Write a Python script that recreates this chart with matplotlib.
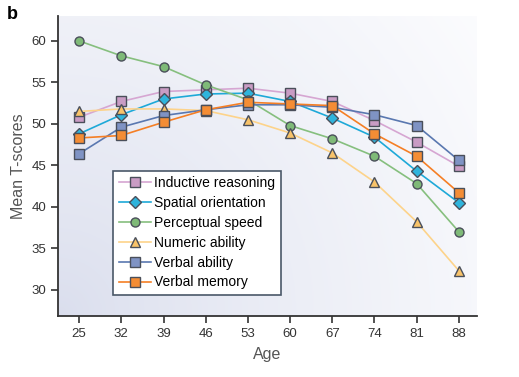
import matplotlib
matplotlib.use('Agg')
import matplotlib.pyplot as plt
import numpy as np

plt.rcParams['font.family'] = ['Liberation Sans', 'DejaVu Sans']

ages = [25, 32, 39, 46, 53, 60, 67, 74, 81, 88]

inductive = [50.8, 52.7, 53.9, 54.1, 54.3, 53.7, 52.7, 50.4, 47.8, 44.9]
spatial = [48.8, 51.1, 53.0, 53.6, 53.7, 52.7, 50.7, 48.4, 44.3, 40.5]
perceptual = [60.0, 58.2, 56.9, 54.7, 52.9, 49.8, 48.2, 46.1, 42.8, 37.0]
numeric = [51.5, 51.8, 51.8, 51.6, 50.5, 48.9, 46.5, 43.0, 38.2, 32.3]
verbal_ability = [46.4, 49.6, 51.0, 51.7, 52.3, 52.3, 52.0, 51.1, 49.8, 45.6]
verbal_memory = [48.3, 48.6, 50.2, 51.7, 52.6, 52.4, 52.2, 48.8, 46.1, 41.7]

series = [
    ('Inductive reasoning', inductive, 's', '#d6a6d2', '#c99cc4'),
    ('Spatial orientation', spatial, 'D', '#1ea9d8', '#2fb4dc'),
    ('Perceptual speed', perceptual, 'o', '#86bf7e', '#7fba78'),
    ('Numeric ability', numeric, '^', '#fdd38a', '#f8c36a'),
    ('Verbal ability', verbal_ability, 's', '#5a78b0', '#7f93c4'),
    ('Verbal memory', verbal_memory, 's', '#f57f25', '#f48d35'),
]

fig = plt.figure(figsize=(5.19, 3.77), dpi=100)
ax = fig.add_axes([0.1118, 0.1618, 0.8072, 0.7958])

# background: lavender at lower left, fading to white at upper right
gx, gy = np.meshgrid(np.linspace(0, 1, 200), np.linspace(0, 1, 200))
d = np.clip(np.sqrt(gx ** 2 * 1.0 + gy ** 2 * 0.5) / np.sqrt(1.5), 0, 1)
c_light = np.array([0.985, 0.987, 0.995])
c_dark = np.array([0.855, 0.87, 0.93])
img = c_dark + (c_light - c_dark) * d[..., None] ** 0.8
ax.imshow(np.clip(img, 0, 1), extent=[0, 1, 0, 1], transform=ax.transAxes,
          origin='lower', aspect='auto', zorder=0)

for name, vals, mk, lc, fc in series:
    ax.plot(ages, vals, color=lc, lw=1.2, marker=mk, markersize=6.5 if mk != 'D' else 6,
            markerfacecolor=fc, markeredgecolor='#4a4f5a', markeredgewidth=1.0,
            label=name, zorder=3)

ax.set_xlim(21.5, 91)
ax.set_ylim(26.85, 63.0)
ax.set_xticks(ages)
ax.set_yticks([30, 35, 40, 45, 50, 55, 60])

for s in ['top', 'right']:
    ax.spines[s].set_visible(False)
for s in ['left', 'bottom']:
    ax.spines[s].set_color('#333333')
    ax.spines[s].set_linewidth(1.3)

ax.tick_params(direction='out', length=5, width=1.2, color='#333333',
               labelsize=9.5, labelcolor='#333333')
ax.set_xlabel('Age', fontsize=11.5, color='#555555', labelpad=5)
ax.set_ylabel('Mean T-scores', fontsize=11.5, color='#555555', labelpad=4)

leg = ax.legend(loc='lower left', bbox_to_anchor=(0.132, 0.07), fontsize=10,
                frameon=True, fancybox=False, borderpad=0.4, labelspacing=0.42,
                handlelength=2.3, handletextpad=0.25, borderaxespad=0)
leg.get_frame().set_edgecolor('#4a5868')
leg.get_frame().set_linewidth(1.2)
leg.get_frame().set_facecolor('white')
leg.get_frame().set_alpha(1)

fig.text(0.014, 0.985, 'b', fontsize=13, fontweight='bold', va='top', ha='left')

fig.savefig('out.png', dpi=100)
